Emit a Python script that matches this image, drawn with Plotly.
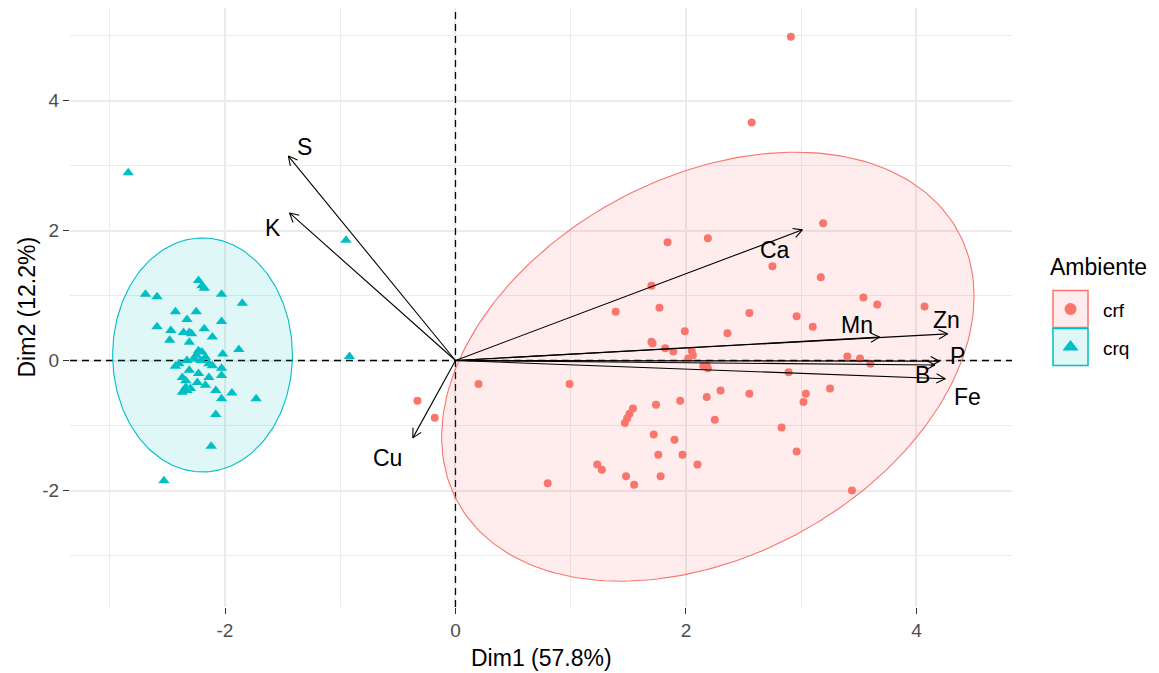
import numpy as np
import plotly.graph_objects as go

# ---------------- data ----------------
crf_x = [2.91, 2.57, 3.19, 1.84, 2.19, 2.75, 3.17, 1.70, 3.54, 3.66, 4.07, 1.77,
         2.55, 2.96, 3.10, 1.99, 2.36, 1.70, 1.71, 1.82, 1.89, 2.05, 2.06, 2.02,
         3.40, 3.51, 3.60, 2.15, 2.19, 2.18, 2.89, 2.30, 2.18, 2.55, 3.04, 3.02,
         3.25, 1.74, 1.95, 2.25, 2.83, 1.72, 1.90, 2.96, 1.76, 1.97, 2.10, 1.78,
         3.44, 1.39, 0.20, 0.99, -0.33, -0.18, 1.54, 1.51, 1.49, 1.47, 1.23, 1.27,
         1.48, 1.55, 0.80]
crf_y = [4.98, 3.66, 2.11, 1.82, 1.88, 1.45, 1.28, 1.15, 0.97, 0.86, 0.83, 0.81,
         0.73, 0.68, 0.52, 0.45, 0.42, 0.29, 0.26, 0.19, 0.14, 0.15, 0.08, 0.03,
         0.06, 0.03, -0.05, -0.08, -0.12, -0.08, -0.18, -0.46, -0.56, -0.51, -0.51, -0.64,
         -0.43, -0.68, -0.62, -0.91, -1.03, -1.14, -1.22, -1.40, -1.45, -1.45, -1.60, -1.78,
         -2.00, 0.75, -0.36, -0.36, -0.62, -0.88, -0.74, -0.82, -0.89, -0.96, -1.60, -1.68,
         -1.78, -1.91, -1.89]

crq_x = [-2.84, -2.23, -2.20, -2.18, -2.69, -2.59, -2.03, -1.85, -2.43, -2.25, -2.33, -2.03,
         -2.59, -2.47, -2.36, -2.31, -2.29, -2.18, -2.11, -2.48, -2.31, -1.88, -2.02, -2.23,
         -2.20, -2.25, -2.17, -2.21, -2.14, -2.11, -2.27, -2.33, -2.40, -2.43, -2.03, -2.03,
         -2.31, -2.23, -2.14, -2.37, -2.34, -2.24, -2.17, -2.34, -2.37, -2.33, -2.30, -2.08,
         -1.94, -2.03, -1.73, -2.08, -2.12, -2.53, -0.95, -0.92]
crq_y = [2.89, 1.23, 1.15, 1.11, 1.02, 0.98, 1.02, 0.88, 0.75, 0.75, 0.63, 0.60,
         0.52, 0.46, 0.43, 0.43, 0.41, 0.49, 0.36, 0.31, 0.28, 0.17, 0.10, 0.15,
         0.13, 0.08, 0.05, 0.00, -0.05, -0.08, 0.03, 0.00, -0.05, -0.09, -0.12, -0.23,
         -0.15, -0.20, -0.26, -0.26, -0.31, -0.34, -0.38, -0.41, -0.49, -0.46, -0.43, -0.46,
         -0.50, -0.59, -0.59, -0.83, -1.32, -1.85, 1.85, 0.06]

var_names = ["S", "K", "Ca", "Mn", "Zn", "P", "B", "Fe", "Cu"]
var_x = [-1.45, -1.44, 3.01, 3.68, 4.27, 4.20, 4.16, 4.25, -0.37]
var_y = [3.145, 2.27, 2.01, 0.36, 0.41, -0.01, -0.07, -0.28, -1.19]
lab_x = [-1.306, -1.58, 2.77, 3.48, 4.26, 4.36, 4.05, 4.44, -0.59]
lab_y = [3.28, 2.04, 1.70, 0.55, 0.62, 0.07, -0.22, -0.56, -1.50]

# concentration ellipses: centre, half-extent in x / y, correlation
crf_ell = dict(cx=2.19, cy=-0.095, wx=2.31, wy=3.30, rho=0.328)
crq_ell = dict(cx=-2.195, cy=0.085, wx=0.78, wy=1.80, rho=0.0)

x_ticks = [-2, 0, 2, 4]
x_tick_text = ["-2", "0", "2", "4"]
x_minor = [-3, -1, 1, 3]
y_ticks = [-2, 0, 2, 4]
y_tick_text = ["-2", "0", "2", "4"]
y_minor = [-3, -1, 1, 3, 5]

groups = ["crf", "crq"]
x_title = "Dim1 (57.8%)"
y_title = "Dim2 (12.2%)"
legend_title = "Ambiente"

# ---------------- styling / layout ----------------
W, H = 1159, 673
PL, PR, PT, PB = 70, 1012, 8, 607
x_range = [-3.345, 4.829]
y_range = [-3.792, 5.423]
RED, TEAL = "#F8766D", "#00BFC4"
RED_FILL, TEAL_FILL = "rgba(248,118,109,0.13)", "rgba(0,191,196,0.12)"
FONT = "Liberation Sans, Arial, sans-serif"

sx = (PR - PL) / (x_range[1] - x_range[0])
sy = (PB - PT) / (y_range[1] - y_range[0])


def ellipse(p, n=240):
    t = np.linspace(0, 2 * np.pi, n)
    x = p["cx"] + p["wx"] * np.cos(t)
    y = p["cy"] + p["wy"] * (p["rho"] * np.cos(t) + np.sqrt(1 - p["rho"] ** 2) * np.sin(t))
    return x, y


fig = go.Figure()

# dashed reference lines through the origin (drawn first, under everything)
dash_line = dict(color="black", width=1.3, dash="7px,5px")
fig.add_trace(go.Scatter(x=[0, 0], y=y_range, mode="lines", line=dash_line,
                         hoverinfo="skip", showlegend=False))
fig.add_trace(go.Scatter(x=x_range, y=[0, 0], mode="lines", line=dash_line,
                         hoverinfo="skip", showlegend=False))

for p, line_c, fill_c in [(crf_ell, RED, RED_FILL), (crq_ell, TEAL, TEAL_FILL)]:
    ex, ey = ellipse(p)
    fig.add_trace(go.Scatter(x=ex, y=ey, mode="lines", fill="toself",
                             fillcolor=fill_c, line=dict(color=line_c, width=1.1),
                             hoverinfo="skip", showlegend=False))

fig.add_trace(go.Scatter(x=crf_x, y=crf_y, mode="markers", name="crf",
                         marker=dict(symbol="circle", size=8, color=RED),
                         showlegend=False))
fig.add_trace(go.Scatter(x=crq_x, y=crq_y, mode="markers", name="crq",
                         marker=dict(symbol="triangle-up", size=10, color=TEAL),
                         showlegend=False))

# arrows (shaft + open head), head computed in pixel space
HEAD_LEN, HEAD_ANG = 10, np.radians(28)
ax_, ay_ = [], []
for vx, vy in zip(var_x, var_y):
    px, py = vx * sx, -vy * sy
    L = np.hypot(px, py)
    ux, uy = px / L, py / L
    ax_ += [0, vx, None]
    ay_ += [0, vy, None]
    for s in (1, -1):
        c, sn = np.cos(s * HEAD_ANG), np.sin(s * HEAD_ANG)
        rx, ry = ux * c - uy * sn, ux * sn + uy * c
        hx = vx - HEAD_LEN * rx / sx
        hy = vy + HEAD_LEN * ry / sy
        ax_ += [hx, vx]
        ay_ += [hy, vy]
    ax_ += [None]
    ay_ += [None]
fig.add_trace(go.Scatter(x=ax_, y=ay_, mode="lines",
                         line=dict(color="black", width=1.1),
                         hoverinfo="skip", showlegend=False))

annotations = []
for name, lx, ly in zip(var_names, lab_x, lab_y):
    annotations.append(dict(x=lx, y=ly, xref="x", yref="y", text=name, showarrow=False,
                            font=dict(family=FONT, size=23, color="black"),
                            xanchor="center", yanchor="middle"))

# axis titles
annotations.append(dict(x=((PL + PR) / 2) / W, y=1 - 658 / H, xref="paper", yref="paper",
                        text=x_title, showarrow=False, xanchor="center", yanchor="middle",
                        font=dict(family=FONT, size=23, color="black")))
annotations.append(dict(x=27 / W, y=1 - ((PT + PB) / 2) / H, xref="paper", yref="paper",
                        text=y_title, showarrow=False, textangle=-90,
                        xanchor="center", yanchor="middle",
                        font=dict(family=FONT, size=23, color="black")))

# manual legend on an auxiliary pixel-coordinate axis pair
LX0 = 1030
annotations.append(dict(x=1048, y=267, xref="x2", yref="y2", text=legend_title,
                        showarrow=False, xanchor="left", yanchor="middle",
                        font=dict(family=FONT, size=23, color="black")))
shapes = []
key_rows = [(309, RED, RED_FILL, "circle", 12, groups[0]),
            (347, TEAL, TEAL_FILL, "triangle-up", 14, groups[1])]
for cy_, lc, fc, sym, sz, lab in key_rows:
    shapes.append(dict(type="rect", xref="x2", yref="y2", x0=1053, x1=1088,
                       y0=cy_ - 18.5, y1=cy_ + 18.5, line=dict(color=lc, width=1.5),
                       fillcolor=fc, layer="below"))
    fig.add_trace(go.Scatter(x=[1070.5], y=[cy_], xaxis="x2", yaxis="y2", mode="markers",
                             marker=dict(symbol=sym, size=sz, color=lc),
                             hoverinfo="skip", showlegend=False))
    annotations.append(dict(x=1101, y=cy_ + 1, xref="x2", yref="y2", text=lab,
                            showarrow=False, xanchor="left", yanchor="middle",
                            font=dict(family=FONT, size=19, color="black")))

axis_common = dict(showgrid=True, gridcolor="#EBEBEB", gridwidth=1.6, zeroline=False,
                   showline=False, ticks="outside", ticklen=6, tickwidth=1.1,
                   tickcolor="#333333",
                   tickfont=dict(family=FONT, size=19, color="#4D4D4D"))

fig.update_layout(
    width=W, height=H, margin=dict(l=0, r=0, t=0, b=0),
    paper_bgcolor="white", plot_bgcolor="white", showlegend=False,
    xaxis=dict(domain=[PL / W, PR / W], range=x_range, tickvals=x_ticks,
               ticktext=x_tick_text,
               minor=dict(tickvals=x_minor, showgrid=True, gridcolor="#EBEBEB", gridwidth=1.1),
               anchor="y", **axis_common),
    yaxis=dict(domain=[1 - PB / H, 1 - PT / H], range=y_range, tickvals=y_ticks,
               ticktext=y_tick_text,
               minor=dict(tickvals=y_minor, showgrid=True, gridcolor="#EBEBEB", gridwidth=1.1),
               anchor="x", **axis_common),
    xaxis2=dict(domain=[LX0 / W, 1], range=[LX0, W], visible=False, anchor="y2",
                fixedrange=True),
    yaxis2=dict(domain=[0, 1], range=[H, 0], visible=False, anchor="x2", fixedrange=True),
    annotations=annotations, shapes=shapes,
)

fig.write_html("out.html")
